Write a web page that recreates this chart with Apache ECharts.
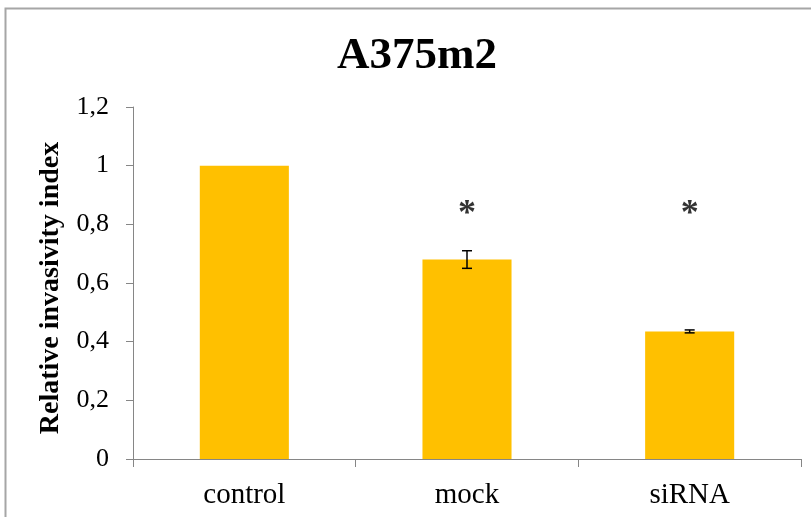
<!DOCTYPE html>
<html>
<head>
<meta charset="utf-8">
<script src="https://cdn.jsdelivr.net/npm/echarts@6/dist/echarts.min.js"></script>
<style>
  html, body { margin: 0; padding: 0; background: #fff; }
  #chart { width: 811px; height: 517px; }
</style>
</head>
<body>
<div id="chart"></div>
<script>
// Relative invasivity of A375m2 cells per condition
const categories = ['control', 'mock', 'siRNA'];
const invasivity = [1.0, 0.68, 0.435];
const errors = [0, 0.03, 0.005];
const significance = ['', '*', '*'];
const markerLevel = 0.86;
const yTicks = [0, 0.2, 0.4, 0.6, 0.8, 1, 1.2];

const serif = '"Liberation Serif", "Times New Roman", serif';
const axisGray = '#868686';

const chart = echarts.init(document.getElementById('chart'));

const errorData = categories
  .map((c, i) => errors[i] > 0 ? [i, invasivity[i] - errors[i], invasivity[i] + errors[i]] : null)
  .filter(Boolean);
const starData = categories
  .map((c, i) => significance[i] ? [i, markerLevel, significance[i]] : null)
  .filter(Boolean);

chart.setOption({
  animation: false,
  title: {
    text: 'A375m2',
    left: 337,
    top: 34,
    padding: 0,
    textStyle: { fontFamily: serif, fontSize: 45, fontWeight: 'bold', color: '#000' }
  },
  graphic: [{
    type: 'rect',
    shape: { x: 5.5, y: 8.5, width: 900, height: 600 },
    style: { fill: 'none', stroke: '#a6a6a6', lineWidth: 2 },
    silent: true
  }],
  grid: { left: 133, right: 10, top: 107, bottom: 58 },
  xAxis: {
    type: 'category',
    data: categories,
    axisLine: { lineStyle: { color: axisGray, width: 1 } },
    axisTick: { show: true, length: 8, lineStyle: { color: axisGray } },
    axisLabel: { fontFamily: serif, fontSize: 29, color: '#000', margin: 22 }
  },
  yAxis: {
    type: 'value',
    min: 0,
    max: 1.2,
    interval: 0.2,
    name: 'Relative invasivity index',
    nameLocation: 'middle',
    nameGap: 68,
    nameTextStyle: {
      fontFamily: serif, fontSize: 28, fontWeight: 'bold', color: '#000',
      padding: [0, 10, 0, 0]
    },
    splitLine: { show: false },
    axisLine: { show: true, lineStyle: { color: axisGray, width: 1 } },
    axisTick: { show: true, length: 7, lineStyle: { color: axisGray } },
    axisLabel: {
      fontFamily: serif, fontSize: 26, color: '#000', margin: 24,
      formatter: v => {
        const t = yTicks.find(x => Math.abs(x - v) < 1e-9);
        return (t !== undefined ? t : v).toString().replace('.', ',');
      }
    }
  },
  series: [
    {
      type: 'bar',
      data: invasivity,
      barWidth: '40%',
      itemStyle: { color: '#FFC000' },
      z: 2
    },
    {
      type: 'custom',
      data: errorData,
      z: 3,
      renderItem: (params, api) => {
        const x = api.value(0);
        const lo = api.coord([x, api.value(1)]);
        const hi = api.coord([x, api.value(2)]);
        const cap = 5;
        const style = { stroke: '#000', lineWidth: 1.5 };
        return {
          type: 'group',
          children: [
            { type: 'line', shape: { x1: lo[0], y1: lo[1], x2: hi[0], y2: hi[1] }, style },
            { type: 'line', shape: { x1: hi[0] - cap, y1: hi[1], x2: hi[0] + cap, y2: hi[1] }, style },
            { type: 'line', shape: { x1: lo[0] - cap, y1: lo[1], x2: lo[0] + cap, y2: lo[1] }, style }
          ]
        };
      }
    },
    {
      type: 'scatter',
      data: starData,
      symbolSize: 0,
      label: {
        show: true,
        position: 'inside',
        formatter: p => p.value[2],
        fontFamily: serif,
        fontSize: 36,
        fontWeight: 'bold',
        color: '#000',
        offset: [0, 8]
      },
      z: 4
    }
  ]
});
</script>
</body>
</html>
